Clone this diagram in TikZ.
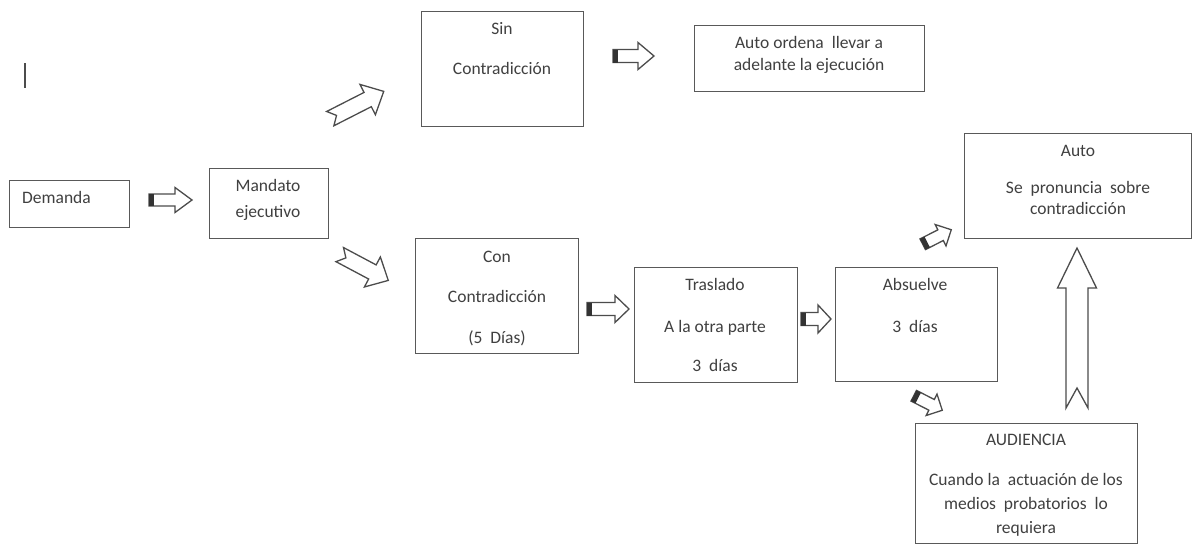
\documentclass[tikz,border=0pt]{standalone}
\usepackage{fontspec}
\setmainfont{Carlito}
\newcommand\topstrut{\rule{0pt}{14pt}}
\tikzset{
  box/.style={draw=black!65, line width=1.4pt, rectangle, inner sep=0pt, anchor=north west},
  txt/.style={text=black!75, inner sep=0pt, align=center, anchor=north},
  blockarrow/.style={draw=black!70, line width=1.3pt, fill=white, line join=miter},
  stripe/.style={fill=black!80},
  pics/striped/.style n args={4}{code={
    \draw[blockarrow] ({-#1/2},{-#2}) -- ({#1/2-#4},{-#2}) -- ({#1/2-#4},{-#3}) -- ({#1/2},0)
      -- ({#1/2-#4},{#3}) -- ({#1/2-#4},{#2}) -- ({-#1/2},{#2}) -- cycle;
    \fill[stripe] ({-#1/2},{-#2}) rectangle ({-#1/2+5},{#2});
  }},
  pics/notched/.style n args={5}{code={
    \draw[blockarrow] ({-#1/2},{-#2}) -- ({#1/2-#4},{-#2}) -- ({#1/2-#4},{-#3}) -- ({#1/2},0)
      -- ({#1/2-#4},{#3}) -- ({#1/2-#4},{#2}) -- ({-#1/2},{#2}) -- ({-#1/2+#5},0) -- cycle;
  }}
}
\begin{document}
\begin{tikzpicture}[x=1pt,y=1pt]
\useasboundingbox (0,0) rectangle (1193,-544);
\fill[white] (0,0) rectangle (1193,-544);

% stray cursor mark
\coordinate (cur1) at (25,-63);
\coordinate (cur2) at (25,-88);
\draw[black!70, line width=1.6pt] (cur1) -- (cur2);

% boxes
\node[box, minimum width=120, minimum height=47] (dem) at (9,-180) {};
\node[box, minimum width=119, minimum height=70] (man) at (209,-168) {};
\node[box, minimum width=162, minimum height=115] (sin) at (421,-11) {};
\node[box, minimum width=230, minimum height=66] (ord) at (694,-25) {};
\node[box, minimum width=163, minimum height=115] (con) at (415,-238) {};
\node[box, minimum width=163, minimum height=115] (tra) at (634,-267) {};
\node[box, minimum width=162, minimum height=114] (abs) at (835,-267) {};
\node[box, minimum width=227, minimum height=105] (aut) at (964,-133) {};
\node[box, minimum width=222, minimum height=120] (aud) at (915,-423) {};

% texts
\node[txt, anchor=north west, font=\fontsize{17.5}{26}\selectfont] (demt) at (22,-189) {\topstrut Demanda};
\node[txt, font=\fontsize{17.5}{26}\selectfont] (mant) at (268,-177) {\topstrut Mandato\\ejecutivo};
\node[txt, font=\fontsize{17.5}{26}\selectfont] (sint) at (502,-20) {\topstrut Sin\\[14pt]Contradicción};
\node[txt, font=\fontsize{17.5}{22}\selectfont] (ordt) at (809,-34) {\topstrut Auto ordena\ \ llevar a\\adelante la ejecución};
\node[txt, font=\fontsize{17.5}{26}\selectfont] (cont) at (497,-248) {\topstrut Con\\[14pt]Contradicción\\[15pt](5\ \ Días)};
\node[txt, font=\fontsize{17.5}{26}\selectfont] (trat) at (715,-276) {\topstrut Traslado\\[16pt]A la otra parte\\[13pt]3\ \ días};
\node[txt, font=\fontsize{17.5}{26}\selectfont] (abst) at (915,-276) {\topstrut Absuelve\\[16pt]3\ \ días};
\node[txt, font=\fontsize{17.5}{21}\selectfont] (autt) at (1078,-142) {\topstrut Auto\\[16pt]Se\ \ pronuncia\ \ sobre\\contradicción};
\node[txt, font=\fontsize{17.5}{24}\selectfont] (audt) at (1026,-431) {\topstrut AUDIENCIA\\[16pt]Cuando la\ \ actuación de los\\medios\ \ probatorios\ \ lo\\requiera};

% block arrows
\pic (a1) at (170.5,-200) {striped={43}{6}{12.5}{17}};
\pic (a2) at (633.5,-56) {striped={41}{6.5}{13.5}{16}};
\pic (a3) at (608,-309) {striped={42}{6.5}{13.5}{14}};
\pic (a4) at (816,-319) {striped={30}{6.5}{14}{13}};
\pic (a5) [rotate=27] at (937,-237) {striped={32}{6}{12}{12}};
\pic (a6) [rotate=-27] at (928,-403) {striped={32}{6}{12}{12}};
\pic (a7) [rotate=27] at (357,-105) {notched={60}{8}{17}{18}{7}};
\pic (a8) [rotate=-28] at (364,-267.5) {notched={55}{8}{17}{18}{7}};
\pic (a9) [rotate=90] at (1077,-328) {notched={160}{11}{19.5}{40}{20}};
\end{tikzpicture}
\end{document}
